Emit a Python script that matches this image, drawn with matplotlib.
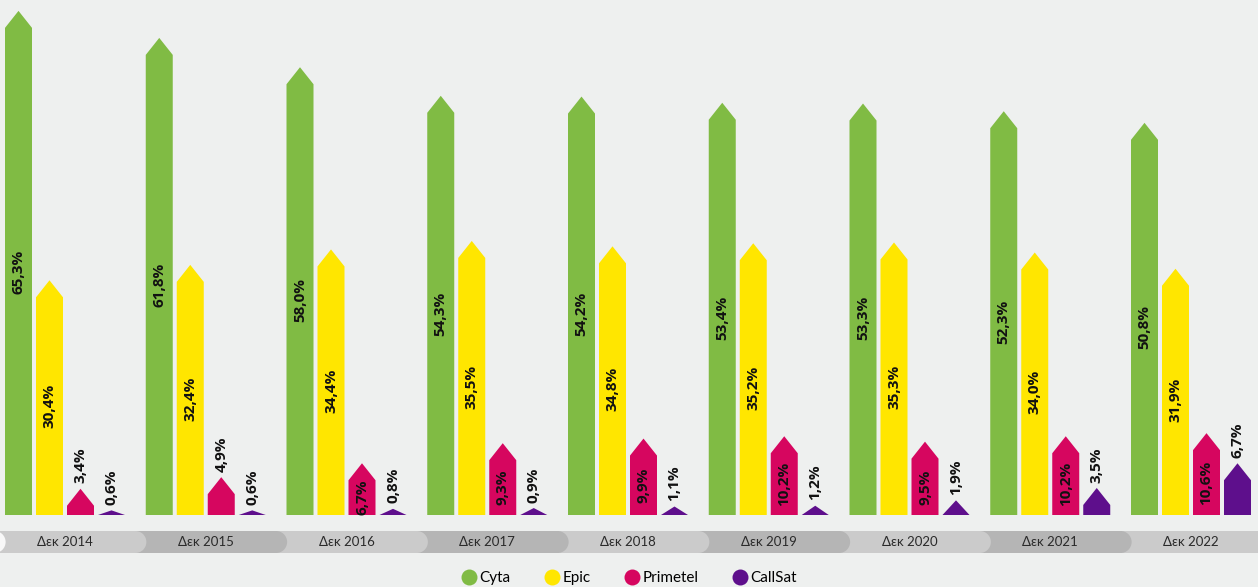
import numpy as np
import matplotlib
matplotlib.use('Agg')
import matplotlib.pyplot as plt
from matplotlib.patches import Polygon, Rectangle, Ellipse
from matplotlib.lines import Line2D

plt.rcParams['font.family'] = ['Lato', 'Open Sans', 'DejaVu Sans']

# data
years = ['Δεκ 2014', 'Δεκ 2015', 'Δεκ 2016', 'Δεκ 2017', 'Δεκ 2018',
         'Δεκ 2019', 'Δεκ 2020', 'Δεκ 2021', 'Δεκ 2022']
names = ['Cyta', 'Epic', 'Primetel', 'CallSat']
cyta = [65.3, 61.8, 58.0, 54.3, 54.2, 53.4, 53.3, 52.3, 50.8]
epic = [30.4, 32.4, 34.4, 35.5, 34.8, 35.2, 35.3, 34.0, 31.9]
primetel = [3.4, 4.9, 6.7, 9.3, 9.9, 10.2, 9.5, 10.2, 10.6]
callsat = [0.6, 0.6, 0.8, 0.9, 1.1, 1.2, 1.9, 3.5, 6.7]
colors = ['#80bb44', '#ffe600', '#d6065f', '#5e0f8c']

bg = '#eef0ef'
W, H = 1258, 587
fig = plt.figure(figsize=(W / 100, H / 100), dpi=100, facecolor=bg)

# main axes: y=0 at pixel row 515, 7.72 px per percent
px_x = 140.75      # pixels per group
x0 = 65.0          # pixel of first group centre
ax = fig.add_axes([0, 72 / H, 1, 515 / H])
ax.set_facecolor(bg)
ax.set_xlim(-x0 / px_x, (W - x0) / px_x)
ax.set_ylim(0, 515 / 7.72)
ax.axis('off')

bw = 27 / px_x            # bar width
step = 31 / px_x          # bar spacing
head = 17 / 7.72          # arrow head height in data units
offsets = (np.arange(4) - 1.5) * step

series = [cyta, epic, primetel, callsat]
for s, vals in enumerate(series):
    for i, v in enumerate(vals):
        c = i + offsets[s]
        h = min(head, v)
        pts = [(c - bw / 2, 0), (c - bw / 2, v - h), (c, v),
               (c + bw / 2, v - h), (c + bw / 2, 0)]
        ax.add_patch(Polygon(pts, closed=True, facecolor=colors[s],
                             edgecolor='none'))
        lab = ('%.1f%%' % v).replace('.', ',')
        inside = s < 2 or (s == 2 and v > 5)
        kw = dict(rotation=90, ha='center', fontsize=11, fontweight='bold',
                  color='#111111', family=['Open Sans', 'DejaVu Sans'])
        if inside:
            ax.text(c, (v - h) / 2, lab, va='center', **kw)
        else:
            ax.text(c, v + 0.7, lab, va='bottom', **kw)

# category band under the bars (pills)
bax = fig.add_axes([0, (H - 553) / H, 1, 22 / H])
bax.set_xlim(ax.get_xlim())
bax.set_ylim(0, 1)
bax.axis('off')
cap = 22 / px_x
for i in range(-1, len(years)):
    if i < 0:
        col = '#f8f8f8'
    else:
        col = '#cbcbcb' if i % 2 == 0 else '#b5b5b5'
    z = 20 - i
    bax.add_patch(Rectangle((i - 0.5, 0), 1.0, 1, facecolor=col,
                            edgecolor='none', zorder=z))
    bax.add_patch(Ellipse((i + 0.5, 0.5), cap, 1, facecolor=col,
                          edgecolor='none', zorder=z))
    if i >= 0:
        bax.text(i, 0.5, years[i], ha='center', va='center', fontsize=9.5,
                 color='#2a2a2a', zorder=30)

# legend
handles = [Line2D([], [], marker='o', linestyle='none', markersize=11.5,
                  markerfacecolor=colors[k], markeredgecolor='none')
           for k in range(4)]
fig.legend(handles, names, loc='center', bbox_to_anchor=(0.5, (H - 578) / H),
           ncol=4, frameon=False, fontsize=11, handletextpad=0.2,
           columnspacing=2.2, handlelength=1.0)

fig.savefig('out.png', dpi=100, facecolor=bg)
